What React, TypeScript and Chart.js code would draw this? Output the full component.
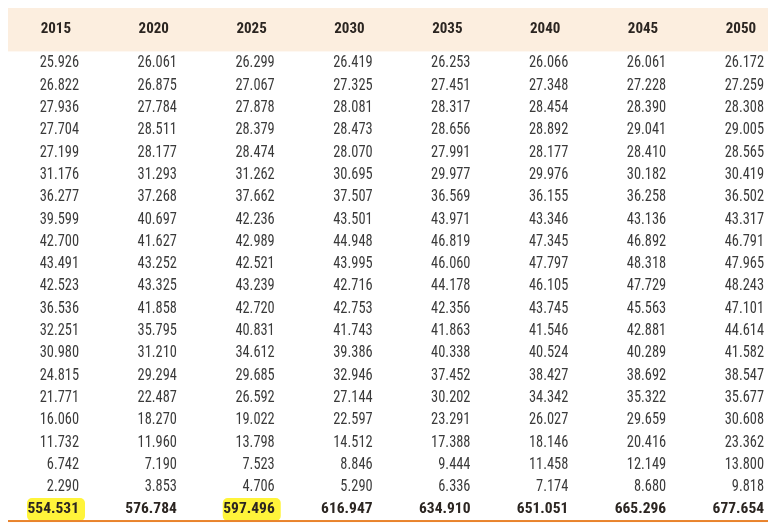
import React, { useEffect, useRef } from "react";
import { Chart, registerables } from "chart.js";

Chart.register(...registerables);

const years = ["2015", "2020", "2025", "2030", "2035", "2040", "2045", "2050"];

const v2015 = [25926, 26822, 27936, 27704, 27199, 31176, 36277, 39599, 42700, 43491, 42523, 36536, 32251, 30980, 24815, 21771, 16060, 11732, 6742, 2290];
const v2020 = [26061, 26875, 27784, 28511, 28177, 31293, 37268, 40697, 41627, 43252, 43325, 41858, 35795, 31210, 29294, 22487, 18270, 11960, 7190, 3853];
const v2025 = [26299, 27067, 27878, 28379, 28474, 31262, 37662, 42236, 42989, 42521, 43239, 42720, 40831, 34612, 29685, 26592, 19022, 13798, 7523, 4706];
const v2030 = [26419, 27325, 28081, 28473, 28070, 30695, 37507, 43501, 44948, 43995, 42716, 42753, 41743, 39386, 32946, 27144, 22597, 14512, 8846, 5290];
const v2035 = [26253, 27451, 28317, 28656, 27991, 29977, 36569, 43971, 46819, 46060, 44178, 42356, 41863, 40338, 37452, 30202, 23291, 17388, 9444, 6336];
const v2040 = [26066, 27348, 28454, 28892, 28177, 29976, 36155, 43346, 47345, 47797, 46105, 43745, 41546, 40524, 38427, 34342, 26027, 18146, 11458, 7174];
const v2045 = [26061, 27228, 28390, 29041, 28410, 30182, 36258, 43136, 46892, 48318, 47729, 45563, 42881, 40289, 38692, 35322, 29659, 20416, 12149, 8680];
const v2050 = [26172, 27259, 28308, 29005, 28565, 30419, 36502, 43317, 46791, 47965, 48243, 47101, 44614, 41582, 38547, 35677, 30608, 23362, 13800, 9818];

const totals = [554531, 576784, 597496, 616947, 634910, 651051, 665296, 677654];
const highlightedTotals = ["2015", "2025"];

const columns = [v2015, v2020, v2025, v2030, v2035, v2040, v2045, v2050];

const FONT = "'Liberation Sans Narrow', 'Arial Narrow', 'Roboto Condensed', 'Liberation Sans', sans-serif";

function fmt(n: number): string {
  const s = Math.round(n).toString();
  return s.replace(/\B(?=(\d{3})+(?!\d))/g, ".");
}

const tablePlugin = {
  id: "tablePlugin",
  beforeDatasetsDraw(chart: any) {
    const { ctx, scales, chartArea } = chart;
    const ys = scales.y;
    ctx.save();
    // header band
    const top = ys.getPixelForValue(-2.51);
    const bottom = ys.getPixelForValue(-0.52);
    ctx.fillStyle = "#FCEEDF";
    ctx.fillRect(chartArea.left, top, chartArea.right - chartArea.left, bottom - top);
    // highlights for totals
    ctx.fillStyle = "#FFF43A";
    chart.data.datasets.forEach((ds: any, i: number) => {
      if (!highlightedTotals.includes(ds.label)) return;
      const meta = chart.getDatasetMeta(i);
      const el = meta.data[meta.data.length - 1];
      const x = el.x;
      const y = el.y;
      ctx.beginPath();
      (ctx as any).roundRect(x - 52, y - 11, 58, 23, 5);
      ctx.fill();
    });
    // bottom orange rule
    const ly = ys.getPixelForValue(20.54);
    ctx.fillStyle = "#E9832C";
    ctx.fillRect(chartArea.left, ly - 1, chartArea.right - chartArea.left, 2);
    ctx.restore();
  },
  afterDatasetsDraw(chart: any) {
    const { ctx, scales } = chart;
    const ys = scales.y;
    const hy = ys.getPixelForValue(-1.5);
    ctx.save();
    ctx.textAlign = "right";
    ctx.textBaseline = "middle";
    const sx = 0.9;
    chart.data.datasets.forEach((ds: any, i: number) => {
      const meta = chart.getDatasetMeta(i);
      // header
      const hx = meta.data[0].x - 8;
      ctx.font = "bold 15px " + FONT;
      ctx.fillStyle = "#2B2521";
      ctx.fillText(ds.label, hx, hy);
      meta.data.forEach((el: any, j: number) => {
        const raw = ds.data[j];
        const isTotal = j === ds.data.length - 1;
        ctx.fillStyle = isTotal ? "#2B2521" : "#3A3A3A";
        if (isTotal) {
          ctx.font = "bold 15.5px " + FONT;
          ctx.fillText(fmt(raw.v), el.x, el.y + 0.5);
        } else {
          ctx.font = "16px " + FONT;
          ctx.save();
          ctx.translate(el.x, el.y + 0.5);
          ctx.scale(sx, 1);
          ctx.fillText(fmt(raw.v), 0, 0);
          ctx.restore();
        }
      });
    });
    ctx.restore();
  },
};

export default function App() {
  const ref = useRef<HTMLCanvasElement>(null);
  useEffect(() => {
    if (!ref.current) return;
    const datasets = years.map((yr, k) => ({
      label: yr,
      data: [...columns[k], totals[k]].map((v, r) => ({ x: k, y: r, v })),
      pointRadius: 0,
      pointHoverRadius: 0,
      showLine: false,
    }));
    const chart = new Chart(ref.current, {
      type: "scatter",
      data: { datasets } as any,
      options: {
        animation: false,
        responsive: false,
        events: [],
        layout: { padding: 0 },
        plugins: { legend: { display: false }, tooltip: { enabled: false } },
        scales: {
          x: { type: "linear", display: false, min: -0.7255, max: 7.122 },
          y: { type: "linear", display: false, reverse: true, min: -2.466, max: 20.673 },
        },
      },
      plugins: [tablePlugin],
    });
    return () => chart.destroy();
  }, []);
  return (
    <div style={{ width: 768, height: 516 }}>
      <canvas ref={ref} width={768} height={516} style={{ display: "block" }} />
    </div>
  );
}
